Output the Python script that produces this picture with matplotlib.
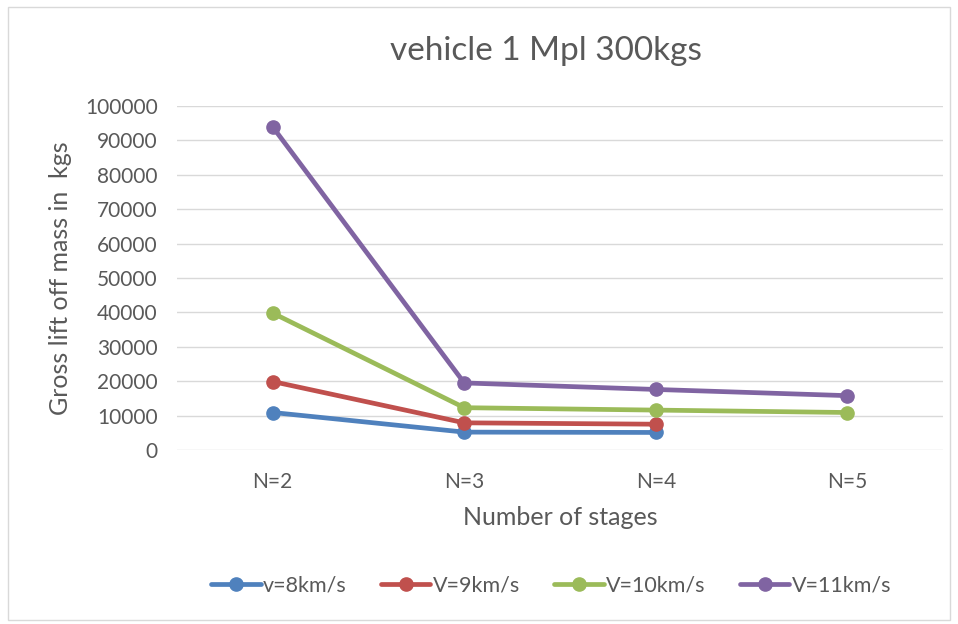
import matplotlib.pyplot as plt
from matplotlib.patches import Rectangle

plt.rcParams['font.family'] = ['Lato', 'DejaVu Sans']

# 数据：级数和不同速度下的起飞总质量
stages = ['N=2', 'N=3', 'N=4', 'N=5']
v8 = [10900, 5200, 5100]
v9 = [19900, 7900, 7500]
v10 = [39800, 12300, 11600, 10900]
v11 = [93900, 19500, 17600, 15800]

series = [
    ('v=8km/s', v8, '#4F81BD'),
    ('V=9km/s', v9, '#C0504D'),
    ('V=10km/s', v10, '#9BBB59'),
    ('V=11km/s', v11, '#8064A2'),
]

grey = '#595959'

fig = plt.figure(figsize=(9.58, 6.24), dpi=100)
ax = fig.add_axes([177 / 958, 1 - 450 / 624, 766 / 958, 344 / 624])

# 外边框
fig.patches.append(Rectangle((8 / 958, 4 / 624), 942 / 958, 613 / 624,
                             transform=fig.transFigure, fill=False,
                             edgecolor='#D9D9D9', linewidth=1))

for label, vals, color in series:
    ax.plot(stages[:len(vals)], vals, color=color, linewidth=3.4,
            marker='o', markersize=9.5, label=label, solid_capstyle='round')

ax.set_xlim(-0.5, 3.5)
ax.set_ylim(0, 100000)
ax.set_yticks(range(0, 100001, 10000))
ax.grid(axis='y', color='#D9D9D9', linewidth=1)
ax.set_axisbelow(True)
for s in ax.spines.values():
    s.set_visible(False)
ax.tick_params(length=0, colors=grey, labelsize=15)
ax.tick_params(axis='x', pad=16)
ax.tick_params(axis='y', pad=14)

fig.text(546 / 958, 1 - 51 / 624, 'vehicle 1 Mpl 300kgs', ha='center', va='center',
         fontsize=24, color=grey)
ax.set_xlabel('Number of stages', fontsize=18, color=grey, labelpad=10)
ax.set_ylabel('Gross lift off mass in  kgs', fontsize=18, color=grey, labelpad=9)

ax.legend(loc='center', bbox_to_anchor=(551 / 958, 1 - 586 / 624),
          bbox_transform=fig.transFigure, ncol=4, frameon=False,
          fontsize=15.5, labelcolor=grey, handlelength=2.3, handletextpad=0.1,
          columnspacing=1.6)

fig.savefig('out.png', dpi=100)
